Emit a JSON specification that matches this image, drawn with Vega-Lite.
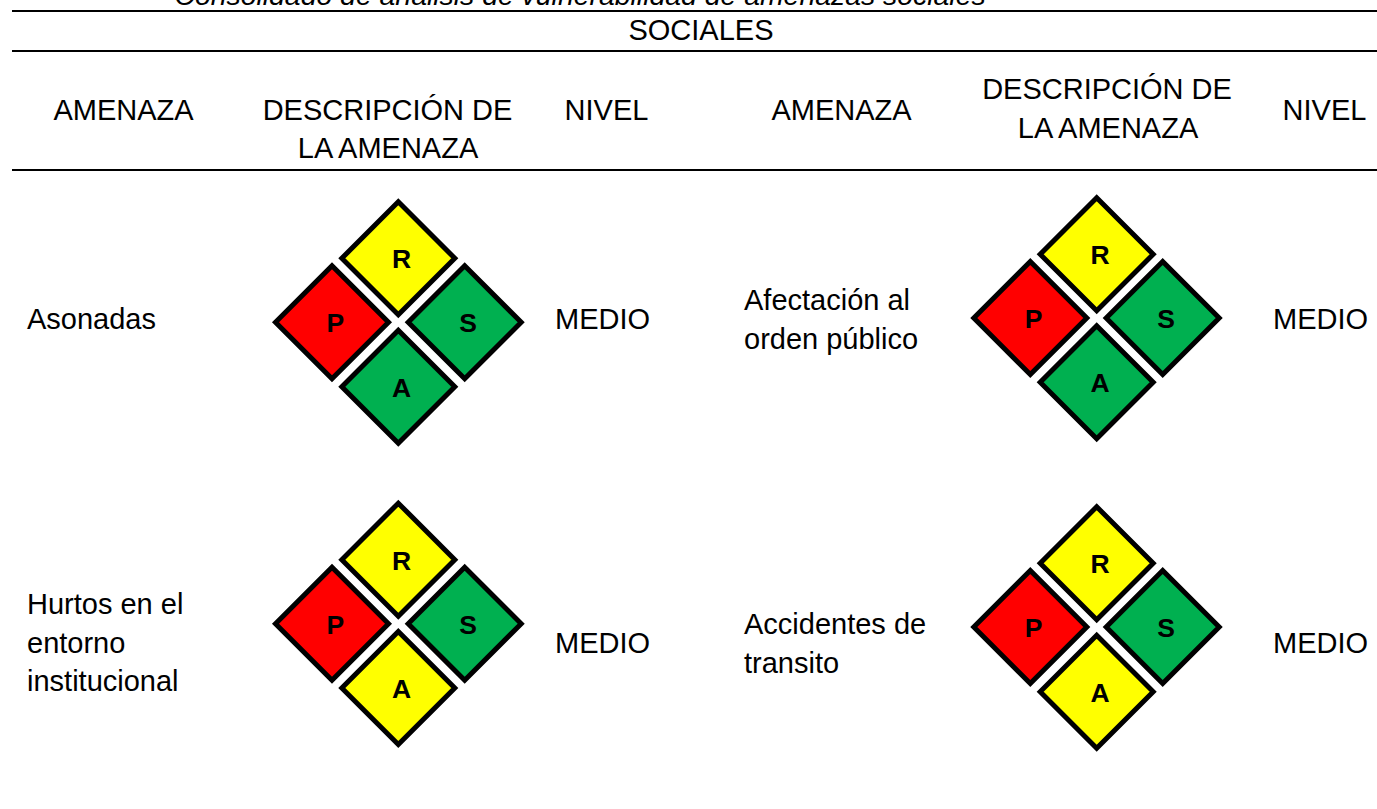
{
"$schema":"https://vega.github.io/schema/vega-lite/v6.json",
"width":1377,"height":809,"padding":0,
"autosize":"none",
"background":"white",
"view":{"stroke":null},
"datasets":{
"lineas":[{"x":12,"x2":1377,"y":11},{"x":12,"x2":1377,"y":51},{"x":12,"x2":1377,"y":170}],
"titulo":[{"x":580,"y":4.5,"t":"Consolidado de análisis de vulnerabilidad de amenazas sociales"}],
"centrado":[
{"x":701,"y":40,"t":"SOCIALES"},
{"x":123.5,"y":120,"t":"AMENAZA"},
{"x":387.5,"y":120,"t":"DESCRIPCIÓN DE"},
{"x":388,"y":158,"t":"LA AMENAZA"},
{"x":606.5,"y":120,"t":"NIVEL"},
{"x":841.5,"y":120,"t":"AMENAZA"},
{"x":1107,"y":99,"t":"DESCRIPCIÓN DE"},
{"x":1108,"y":138,"t":"LA AMENAZA"},
{"x":1324.5,"y":120,"t":"NIVEL"},
{"x":602.5,"y":329,"t":"MEDIO"},
{"x":1320.5,"y":329,"t":"MEDIO"},
{"x":602.5,"y":653,"t":"MEDIO"},
{"x":1320.5,"y":653,"t":"MEDIO"}],
"izquierda":[
{"x":27,"y":329,"t":"Asonadas"},
{"x":744,"y":310,"t":"Afectación al"},
{"x":744,"y":349,"t":"orden público"},
{"x":27,"y":614,"t":"Hurtos en el"},
{"x":27,"y":653,"t":"entorno"},
{"x":27,"y":691,"t":"institucional"},
{"x":744,"y":634,"t":"Accidentes de"},
{"x":744,"y":673,"t":"transito"}],
"rombos":[
{"x":398.3,"y":258.3,"letra":"R","nivel":"Medio"},
{"x":332,"y":322.3,"letra":"P","nivel":"Alto"},
{"x":464.7,"y":322.3,"letra":"S","nivel":"Bajo"},
{"x":398.3,"y":386.7,"letra":"A","nivel":"Bajo"},
{"x":1096.7,"y":254.3,"letra":"R","nivel":"Medio"},
{"x":1030.3,"y":318,"letra":"P","nivel":"Alto"},
{"x":1162.7,"y":318,"letra":"S","nivel":"Bajo"},
{"x":1096.7,"y":382.3,"letra":"A","nivel":"Bajo"},
{"x":398.3,"y":559.7,"letra":"R","nivel":"Medio"},
{"x":332,"y":623.7,"letra":"P","nivel":"Alto"},
{"x":464.7,"y":623.7,"letra":"S","nivel":"Bajo"},
{"x":398.3,"y":688,"letra":"A","nivel":"Medio"},
{"x":1096.7,"y":563.3,"letra":"R","nivel":"Medio"},
{"x":1030.3,"y":627,"letra":"P","nivel":"Alto"},
{"x":1162.7,"y":627,"letra":"S","nivel":"Bajo"},
{"x":1096.7,"y":691.7,"letra":"A","nivel":"Medio"}]
},
"encoding":{
"x":{"field":"x","type":"quantitative","scale":{"domain":[0,1377],"nice":false,"zero":false},"axis":null},
"y":{"field":"y","type":"quantitative","scale":{"domain":[0,809],"reverse":true,"nice":false,"zero":false},"axis":null}
},
"layer":[
{"data":{"name":"lineas"},"mark":{"type":"rule","stroke":"#000000","strokeWidth":2.2},"encoding":{"x2":{"field":"x2"}}},
{"data":{"name":"titulo"},"mark":{"type":"text","font":"Liberation Sans","fontStyle":"italic","fontSize":28.4,"color":"#000000","align":"center","baseline":"alphabetic"},"encoding":{"text":{"field":"t"}}},
{"data":{"name":"centrado"},"mark":{"type":"text","font":"Liberation Sans","fontSize":29,"color":"#000000","align":"center","baseline":"alphabetic"},"encoding":{"text":{"field":"t"}}},
{"data":{"name":"izquierda"},"mark":{"type":"text","font":"Liberation Sans","fontSize":29,"color":"#000000","align":"left","baseline":"alphabetic"},"encoding":{"text":{"field":"t"}}},
{"data":{"name":"rombos"},"mark":{"type":"point","shape":"diamond","filled":true,"size":12770,"stroke":"#000000","strokeWidth":5,"opacity":1},
 "encoding":{"fill":{"field":"nivel","type":"nominal","legend":null,"scale":{"domain":["Alto","Medio","Bajo"],"range":["#FF0000","#FFFF00","#00B050"]}}}},
{"data":{"name":"rombos"},"mark":{"type":"text","font":"Liberation Sans","fontWeight":"bold","fontSize":26.5,"color":"#000000","align":"center","baseline":"middle","dx":3.3,"dy":2},"encoding":{"text":{"field":"letra"}}}
]
}
